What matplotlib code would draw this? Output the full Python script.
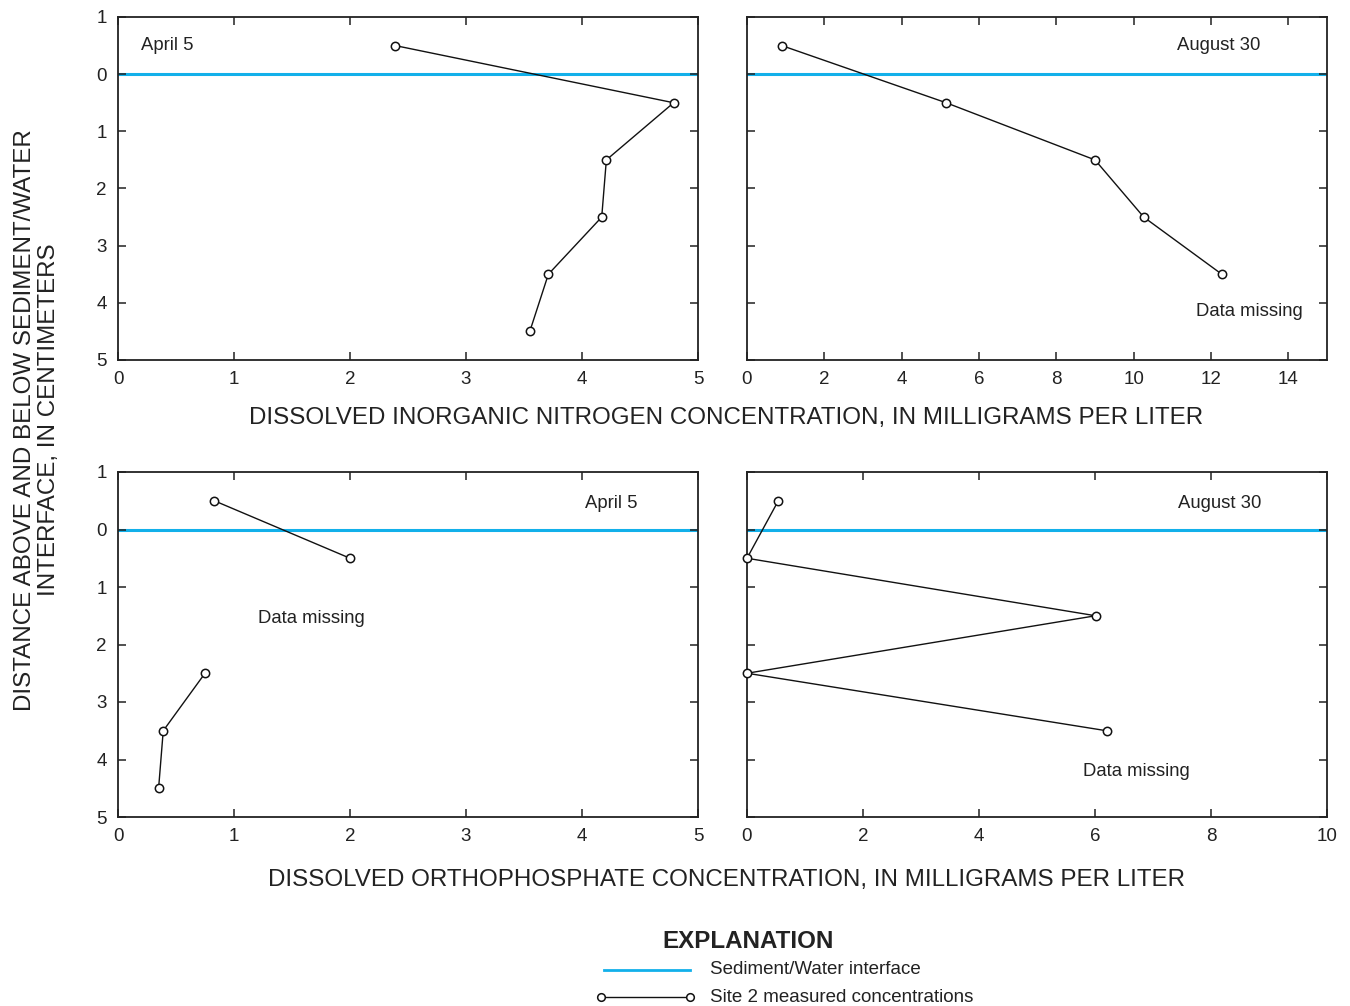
import numpy as np
import matplotlib

matplotlib.use("Agg")
import matplotlib.pyplot as plt
from matplotlib.lines import Line2D

plt.rcParams["font.family"] = ["Liberation Sans", "DejaVu Sans"]

# depth below the sediment/water interface (negative = above), cm
depth = [-0.5, 0.5, 1.5, 2.5, 3.5, 4.5]
depth_ticks = [-1, 0, 1, 2, 3, 4, 5]
depth_labels = ["1", "0", "1", "2", "3", "4", "5"]

# dissolved inorganic nitrogen, mg/L
din_apr = [2.39, 4.79, 4.21, 4.17, 3.71, 3.55]
din_aug = [0.90, 5.15, 9.00, 10.26, 12.28, np.nan]

# dissolved orthophosphate, mg/L
po4_apr = [0.83, 2.00, np.nan, 0.75, 0.39, 0.35]
po4_aug = [0.54, 0.00, 6.01, 0.00, 6.20, np.nan]

BLUE = "#12b0ea"
W, H = 1350, 1006

fig = plt.figure(figsize=(W / 100, H / 100), dpi=100)


def px_axes(x0, y0, x1, y1):
    return fig.add_axes([x0 / W, 1 - y1 / H, (x1 - x0) / W, (y1 - y0) / H])


def style(ax, xmax, xstep, show_y):
    ax.set_xlim(0, xmax)
    ax.set_ylim(5, -1)
    ax.set_xticks(np.arange(0, xmax + 0.01, xstep))
    ax.set_yticks(depth_ticks)
    if show_y:
        ax.set_yticklabels(depth_labels)
    else:
        ax.set_yticklabels([])
    ax.tick_params(direction="in", length=6, width=1.1, top=True, right=True,
                   labelsize=13.5, pad=8, colors="#222222")
    for s in ax.spines.values():
        s.set_linewidth(1.3)
        s.set_color("#222222")
    ax.axhline(0, color=BLUE, lw=2.2, zorder=1)


def profile(ax, x):
    ax.plot(x, depth, color="#111111", lw=1.0, marker="o", ms=6,
            mfc="white", mec="#111111", mew=1.1, clip_on=False, zorder=3)


ax1 = px_axes(118, 17, 698, 360)
ax2 = px_axes(747, 17, 1327, 360)
ax3 = px_axes(118, 472, 698, 817)
ax4 = px_axes(747, 472, 1327, 817)

style(ax1, 5, 1, True)
style(ax2, 15, 2, False)
ax2.set_xticks(np.arange(0, 15, 2))
style(ax3, 5, 1, True)
style(ax4, 10, 2, False)

profile(ax1, din_apr)
profile(ax2, din_aug)
profile(ax3, po4_apr)
profile(ax4, po4_aug)

txt = dict(fontsize=13.3, color="#222222", va="center")
ax1.text(0.2, -0.5, "April 5", ha="left", **txt)
ax2.text(12.2, -0.5, "August 30", ha="center", **txt)
ax2.text(13.0, 4.15, "Data missing", ha="center", **txt)
ax3.text(4.25, -0.45, "April 5", ha="center", **txt)
ax3.text(1.67, 1.55, "Data missing", ha="center", **txt)
ax4.text(8.15, -0.45, "August 30", ha="center", **txt)
ax4.text(6.72, 4.2, "Data missing", ha="center", **txt)

lab = dict(fontsize=17.4, color="#222222", ha="center", va="center")
fig.text(726 / W, 1 - 418 / H,
         "DISSOLVED INORGANIC NITROGEN CONCENTRATION, IN MILLIGRAMS PER LITER", **lab)
fig.text(726 / W, 1 - 880 / H,
         "DISSOLVED ORTHOPHOSPHATE CONCENTRATION, IN MILLIGRAMS PER LITER", **lab)
fig.text(37 / W, 1 - 420 / H,
         "DISTANCE ABOVE AND BELOW SEDIMENT/WATER\nINTERFACE, IN CENTIMETERS",
         rotation=90, linespacing=1.15, multialignment="center", **lab)

# explanation block
fig.text(748 / W, 1 - 941 / H, "EXPLANATION", fontsize=17.4, fontweight="bold",
         color="#222222", ha="center", va="center")
fig.add_artist(Line2D([604 / W, 690 / W], [1 - 970 / H] * 2, color=BLUE, lw=2.0))
fig.add_artist(Line2D([601 / W, 690 / W], [1 - 997 / H] * 2, color="#111111",
                      lw=1.0, marker="o", ms=5.5, mfc="white", mec="#111111", mew=1.1))
fig.text(710 / W, 1 - 970 / H, "Sediment/Water interface", fontsize=13.5,
         color="#222222", ha="left", va="center")
fig.text(710 / W, 1 - 997 / H, "Site 2 measured concentrations", fontsize=13.5,
         color="#222222", ha="left", va="center")

fig.savefig("out.png", dpi=100, facecolor="white")
